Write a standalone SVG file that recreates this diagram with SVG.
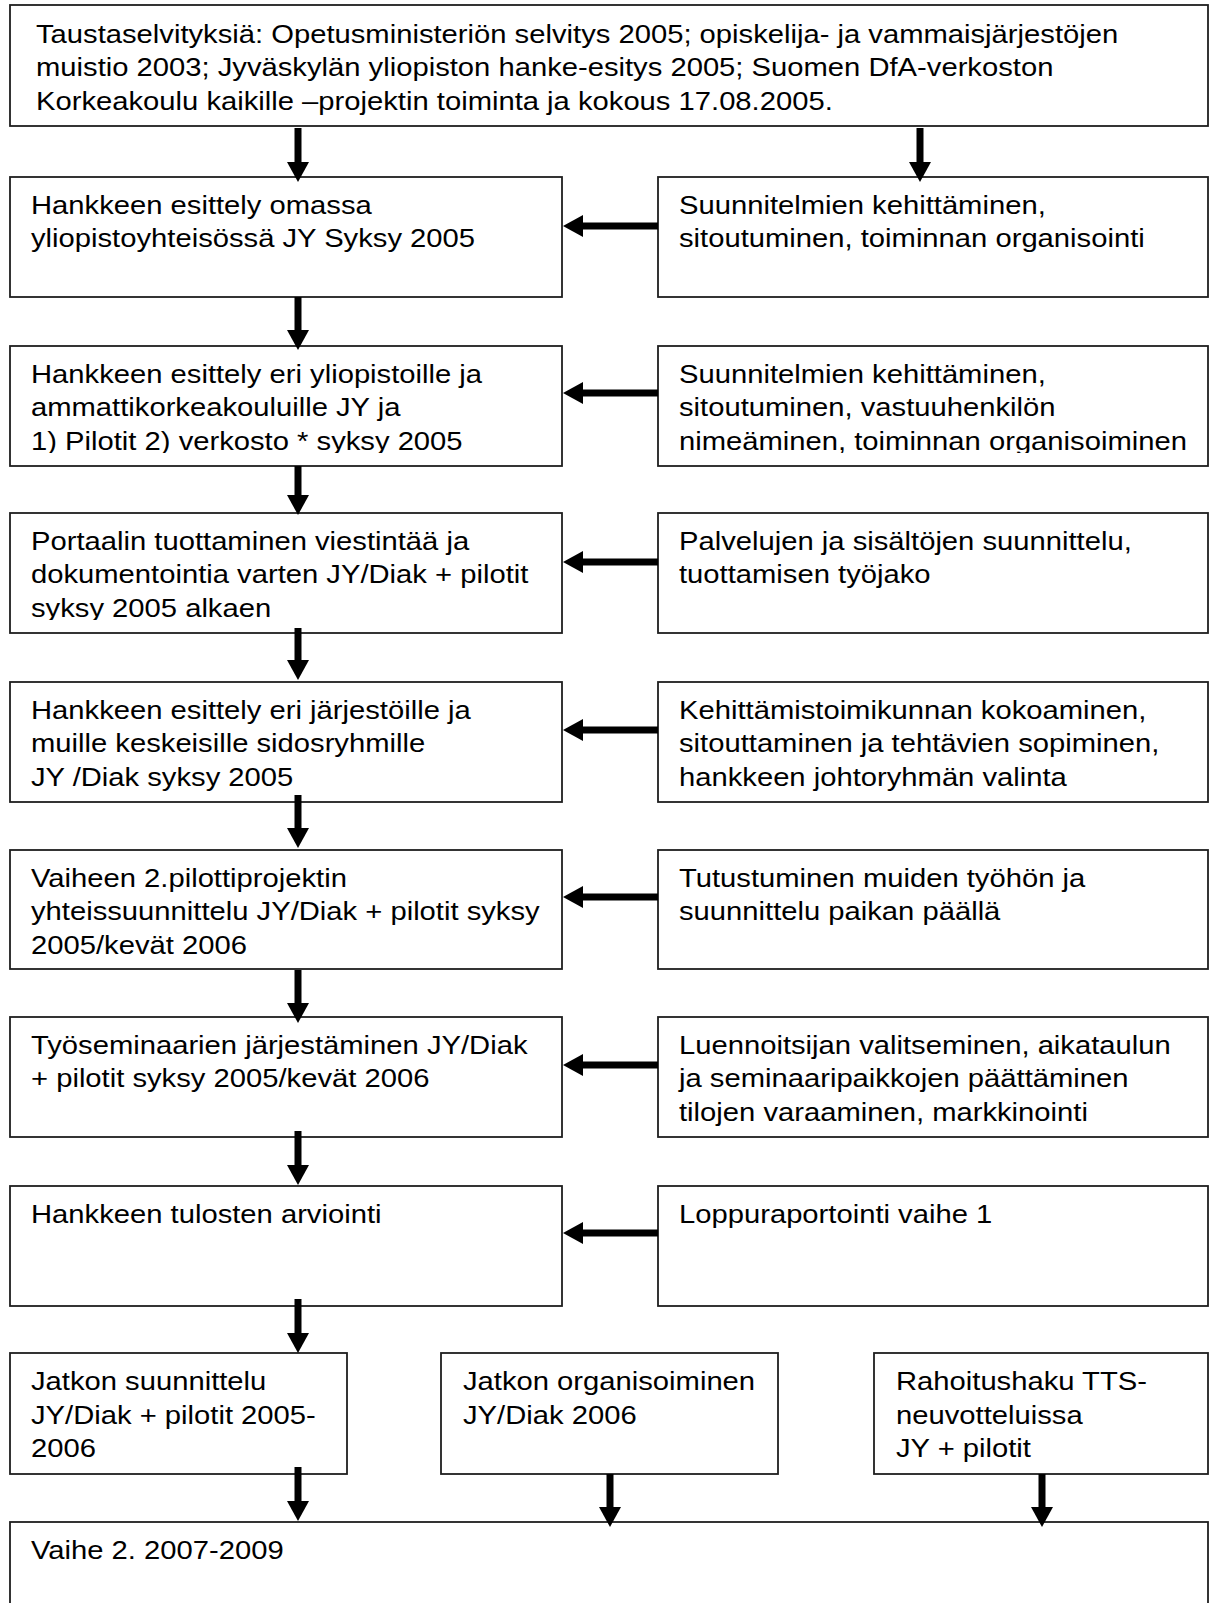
<svg xmlns="http://www.w3.org/2000/svg" width="1210" height="1603" viewBox="0 0 1210 1603">
<style>
.box{fill:#fff;stroke:#1e1e1e;stroke-width:1.8}
.t{font-family:"Liberation Sans",Arial,sans-serif;font-size:25.5px;fill:#000}
.c{stroke:#000;stroke-width:7;fill:none;marker-end:url(#ah)}
</style>
<defs>
<marker id="ah" markerUnits="userSpaceOnUse" markerWidth="20" markerHeight="22" viewBox="0 0 20 22" refX="0" refY="11" orient="auto">
<path d="M0,0 L20,11 L0,22 z" fill="#000"/>
</marker>
<clipPath id="clipTop"><rect x="10" y="5" width="1198" height="110"/></clipPath>
<clipPath id="clipL3"><rect x="10" y="346" width="552" height="107"/></clipPath>
<clipPath id="clipR3"><rect x="658" y="346" width="550" height="107"/></clipPath>
<clipPath id="clipL4"><rect x="10" y="513" width="552" height="107"/></clipPath>
</defs>
<rect width="1210" height="1603" fill="#fff"/>

<g id="top">
<rect class="box" x="10" y="5" width="1198" height="121"/>
<g clip-path="url(#clipTop)">
<text class="t" transform="translate(36,43) scale(1.145,1)"><tspan x="0" y="0">Taustaselvityksiä: Opetusministeriön selvitys 2005; opiskelija- ja vammaisjärjestöjen</tspan><tspan x="0" y="33.5">muistio 2003; Jyväskylän yliopiston hanke-esitys 2005; Suomen DfA-verkoston</tspan><tspan x="0" y="67">Korkeakoulu kaikille –projektin toiminta ja kokous 17.08.2005.</tspan></text>
</g>
</g>

<g id="L2">
<rect class="box" x="10" y="177" width="552" height="120"/>
<text class="t" transform="translate(31,213.5) scale(1.145,1)"><tspan x="0" y="0">Hankkeen esittely omassa</tspan><tspan x="0" y="33.7">yliopistoyhteisössä JY Syksy 2005</tspan></text>
</g>
<g id="R2">
<rect class="box" x="658" y="177" width="550" height="120"/>
<text class="t" transform="translate(679,213.5) scale(1.145,1)"><tspan x="0" y="0">Suunnitelmien kehittäminen,</tspan><tspan x="0" y="33.7">sitoutuminen, toiminnan organisointi</tspan></text>
</g>

<g id="L3">
<rect class="box" x="10" y="346" width="552" height="120"/>
<g clip-path="url(#clipL3)">
<text class="t" transform="translate(31,382.5) scale(1.145,1)"><tspan x="0" y="0">Hankkeen esittely eri yliopistoille ja</tspan><tspan x="0" y="33.7">ammattikorkeakouluille JY ja</tspan><tspan x="0" y="67.4">1) Pilotit 2) verkosto * syksy 2005</tspan></text>
</g>
</g>
<g id="R3">
<rect class="box" x="658" y="346" width="550" height="120"/>
<g clip-path="url(#clipR3)">
<text class="t" transform="translate(679,382.5) scale(1.145,1)"><tspan x="0" y="0">Suunnitelmien kehittäminen,</tspan><tspan x="0" y="33.7">sitoutuminen, vastuuhenkilön</tspan><tspan x="0" y="67.4">nimeäminen, toiminnan organisoiminen</tspan></text>
</g>
</g>

<g id="L4">
<rect class="box" x="10" y="513" width="552" height="120"/>
<g clip-path="url(#clipL4)">
<text class="t" transform="translate(31,549.5) scale(1.145,1)"><tspan x="0" y="0">Portaalin tuottaminen viestintää ja</tspan><tspan x="0" y="33.7">dokumentointia varten JY/Diak + pilotit</tspan><tspan x="0" y="67.4">syksy 2005 alkaen</tspan></text>
</g>
</g>
<g id="R4">
<rect class="box" x="658" y="513" width="550" height="120"/>
<text class="t" transform="translate(679,549.5) scale(1.145,1)"><tspan x="0" y="0">Palvelujen ja sisältöjen suunnittelu,</tspan><tspan x="0" y="33.7">tuottamisen työjako</tspan></text>
</g>

<g id="L5">
<rect class="box" x="10" y="682" width="552" height="120"/>
<text class="t" transform="translate(31,718.5) scale(1.145,1)"><tspan x="0" y="0">Hankkeen esittely eri järjestöille ja</tspan><tspan x="0" y="33.7">muille keskeisille sidosryhmille</tspan><tspan x="0" y="67.4">JY /Diak syksy 2005</tspan></text>
</g>
<g id="R5">
<rect class="box" x="658" y="682" width="550" height="120"/>
<text class="t" transform="translate(679,718.5) scale(1.145,1)"><tspan x="0" y="0">Kehittämistoimikunnan kokoaminen,</tspan><tspan x="0" y="33.7">sitouttaminen ja tehtävien sopiminen,</tspan><tspan x="0" y="67.4">hankkeen johtoryhmän valinta</tspan></text>
</g>

<g id="L6">
<rect class="box" x="10" y="850" width="552" height="119"/>
<text class="t" transform="translate(31,886.5) scale(1.145,1)"><tspan x="0" y="0">Vaiheen 2.pilottiprojektin</tspan><tspan x="0" y="33.7">yhteissuunnittelu JY/Diak + pilotit syksy</tspan><tspan x="0" y="67.4">2005/kevät 2006</tspan></text>
</g>
<g id="R6">
<rect class="box" x="658" y="850" width="550" height="119"/>
<text class="t" transform="translate(679,886.5) scale(1.145,1)"><tspan x="0" y="0">Tutustuminen muiden työhön ja</tspan><tspan x="0" y="33.7">suunnittelu paikan päällä</tspan></text>
</g>

<g id="L7">
<rect class="box" x="10" y="1017" width="552" height="120"/>
<text class="t" transform="translate(31,1053.5) scale(1.145,1)"><tspan x="0" y="0">Työseminaarien järjestäminen JY/Diak</tspan><tspan x="0" y="33.7">+ pilotit syksy 2005/kevät 2006</tspan></text>
</g>
<g id="R7">
<rect class="box" x="658" y="1017" width="550" height="120"/>
<text class="t" transform="translate(679,1053.5) scale(1.145,1)"><tspan x="0" y="0">Luennoitsijan valitseminen, aikataulun</tspan><tspan x="0" y="33.7">ja seminaaripaikkojen päättäminen</tspan><tspan x="0" y="67.4">tilojen varaaminen, markkinointi</tspan></text>
</g>

<g id="L8">
<rect class="box" x="10" y="1186" width="552" height="120"/>
<text class="t" transform="translate(31,1222.5) scale(1.145,1)">Hankkeen tulosten arviointi</text>
</g>
<g id="R8">
<rect class="box" x="658" y="1186" width="550" height="120"/>
<text class="t" transform="translate(679,1222.5) scale(1.145,1)">Loppuraportointi vaihe 1</text>
</g>

<g id="B1">
<rect class="box" x="10" y="1353" width="337" height="121"/>
<text class="t" transform="translate(31,1390) scale(1.145,1)"><tspan x="0" y="0">Jatkon suunnittelu</tspan><tspan x="0" y="33.7">JY/Diak + pilotit 2005-</tspan><tspan x="0" y="67.4">2006</tspan></text>
</g>
<g id="B2">
<rect class="box" x="441" y="1353" width="337" height="121"/>
<text class="t" transform="translate(463,1390) scale(1.145,1)"><tspan x="0" y="0">Jatkon organisoiminen</tspan><tspan x="0" y="33.7">JY/Diak 2006</tspan></text>
</g>
<g id="B3">
<rect class="box" x="874" y="1353" width="334" height="121"/>
<text class="t" transform="translate(896,1390) scale(1.145,1)"><tspan x="0" y="0">Rahoitushaku TTS-</tspan><tspan x="0" y="33.7">neuvotteluissa</tspan><tspan x="0" y="67.4">JY + pilotit</tspan></text>
</g>

<g id="phase2">
<rect class="box" x="10" y="1522" width="1198" height="100"/>
<text class="t" transform="translate(31,1558.5) scale(1.145,1)">Vaihe 2. 2007-2009</text>
</g>

<g id="connectors">
<line class="c" x1="298" y1="128" x2="298" y2="162"/>
<line class="c" x1="920" y1="128" x2="920" y2="162"/>
<line class="c" x1="298" y1="297" x2="298" y2="330"/>
<line class="c" x1="298" y1="466" x2="298" y2="495"/>
<line class="c" x1="298" y1="628" x2="298" y2="660"/>
<line class="c" x1="298" y1="795" x2="298" y2="828"/>
<line class="c" x1="298" y1="970" x2="298" y2="1003"/>
<line class="c" x1="298" y1="1131" x2="298" y2="1165"/>
<line class="c" x1="298" y1="1299" x2="298" y2="1333"/>
<line class="c" x1="298" y1="1467" x2="298" y2="1501"/>
<line class="c" x1="610" y1="1474" x2="610" y2="1507"/>
<line class="c" x1="1042" y1="1474" x2="1042" y2="1507"/>
<line class="c" x1="658" y1="226" x2="583" y2="226"/>
<line class="c" x1="658" y1="393" x2="583" y2="393"/>
<line class="c" x1="658" y1="562" x2="583" y2="562"/>
<line class="c" x1="658" y1="730" x2="583" y2="730"/>
<line class="c" x1="658" y1="897" x2="583" y2="897"/>
<line class="c" x1="658" y1="1065" x2="583" y2="1065"/>
<line class="c" x1="658" y1="1233" x2="583" y2="1233"/>
</g>
</svg>
